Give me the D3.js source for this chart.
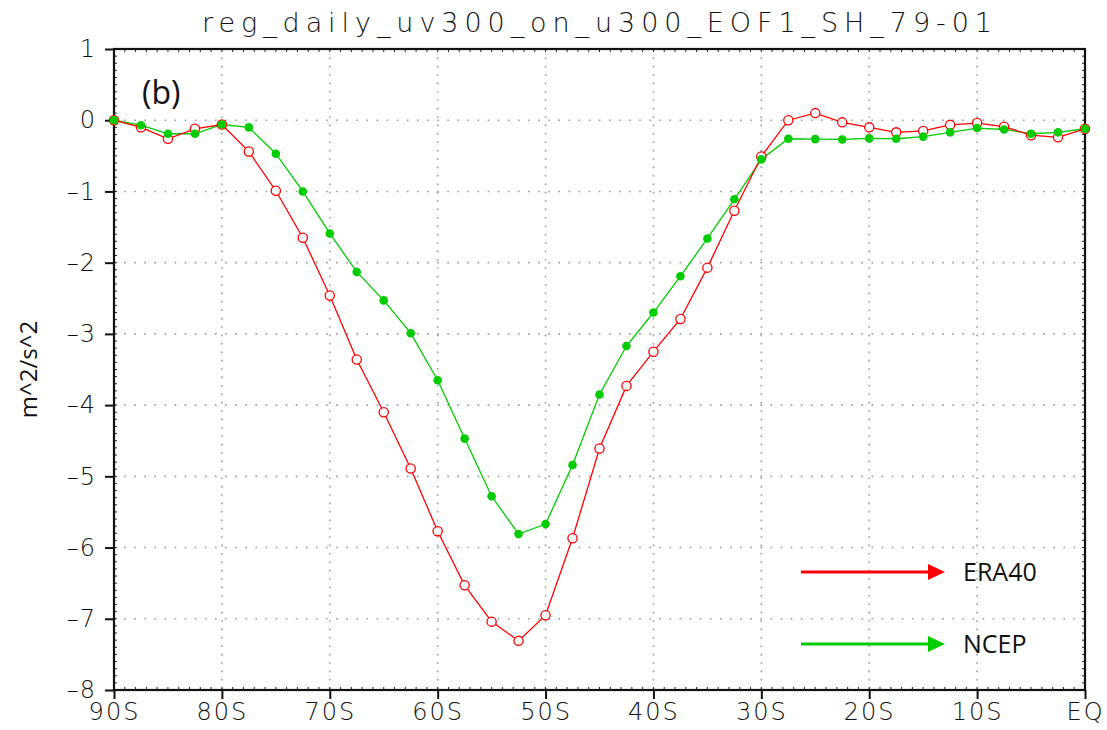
<!DOCTYPE html>
<html>
<head>
<meta charset="utf-8">
<script src="https://cdn.jsdelivr.net/npm/d3@7"></script>
<style>
html,body{margin:0;padding:0;background:#fff;}
svg{display:block;}
</style>
</head>
<body>
<svg id="chart" width="1107" height="730"></svg>
<script>
// ---- data ----
const latitudes = [90, 87.5, 85, 82.5, 80, 77.5, 75, 72.5, 70, 67.5, 65, 62.5, 60, 57.5, 55, 52.5, 50, 47.5, 45, 42.5, 40, 37.5, 35, 32.5, 30, 27.5, 25, 22.5, 20, 17.5, 15, 12.5, 10, 7.5, 5, 2.5, 0];
const era40 = [0, -0.10, -0.26, -0.12, -0.06, -0.44, -0.99, -1.65, -2.46, -3.36, -4.10, -4.89, -5.77, -6.53, -7.04, -7.31, -6.95, -5.87, -4.61, -3.73, -3.25, -2.79, -2.07, -1.27, -0.51, 0.00, 0.10, -0.03, -0.10, -0.17, -0.15, -0.065, -0.04, -0.09, -0.21, -0.24, -0.12];
const ncep = [0, -0.07, -0.19, -0.19, -0.06, -0.10, -0.47, -1.00, -1.59, -2.13, -2.53, -2.99, -3.65, -4.47, -5.28, -5.81, -5.67, -4.84, -3.85, -3.17, -2.70, -2.19, -1.66, -1.11, -0.55, -0.26, -0.265, -0.27, -0.255, -0.26, -0.23, -0.17, -0.11, -0.13, -0.19, -0.17, -0.12];
const xTickValues = [90, 80, 70, 60, 50, 40, 30, 20, 10, 0];
const xTickLabels = ["90S", "80S", "70S", "60S", "50S", "40S", "30S", "20S", "10S", "EQ"];
const yTickValues = [1, 0, -1, -2, -3, -4, -5, -6, -7, -8];
const seriesNames = ["ERA40", "NCEP"];
const titleText = "reg_daily_uv300_on_u300_EOF1_SH_79-01";
const yLabel = "m^2/s^2";
const panelLabel = "(b)";

// ---- layout ----
const L = 114, R = 1085, T = 49, B = 690;
const svg = d3.select("#chart");
const x = d3.scaleLinear().domain([90, 0]).range([L, R]);
const y = d3.scaleLinear().domain([1, -8]).range([T, B]);
const red = "#ff0000", green = "#00cc00";
const tickFont = "'DejaVu Sans', sans-serif";
const tickWeight = 200;

// grid (dotted)
const grid = svg.append("g");
grid.selectAll("line.gx").data(xTickValues.filter(v => v !== 90 && v !== 0)).enter()
  .append("line").attr("x1", d => x(d)).attr("x2", d => x(d)).attr("y1", T).attr("y2", B)
  .attr("stroke", "#9a9a9a").attr("stroke-width", 1.6).attr("stroke-dasharray", "1.6,6.8");
grid.selectAll("line.gy").data(yTickValues.filter(v => v !== 1 && v !== -8)).enter()
  .append("line").attr("x1", L).attr("x2", R).attr("y1", d => y(d)).attr("y2", d => y(d))
  .attr("stroke", "#9a9a9a").attr("stroke-width", 1.6).attr("stroke-dasharray", "1.6,8.5");

// minor ticks
const minorX = d3.range(90, -0.5, -1);
const minorY = d3.range(1, -8.05, -0.1);
const mt = svg.append("g").attr("stroke", "#222").attr("stroke-width", 1);
mt.selectAll("line.mxb").data(minorX).enter().append("line")
  .attr("x1", d => x(d)).attr("x2", d => x(d)).attr("y1", B).attr("y2", B - 3);
mt.selectAll("line.mxt").data(minorX).enter().append("line")
  .attr("x1", d => x(d)).attr("x2", d => x(d)).attr("y1", T).attr("y2", T + 3);
mt.selectAll("line.myl").data(minorY).enter().append("line")
  .attr("x1", L).attr("x2", L + 3).attr("y1", d => y(d)).attr("y2", d => y(d));
mt.selectAll("line.myr").data(minorY).enter().append("line")
  .attr("x1", R).attr("x2", R - 3).attr("y1", d => y(d)).attr("y2", d => y(d));

// axes
const xAxis = d3.axisBottom(x).tickValues(xTickValues)
  .tickFormat((d, i) => xTickLabels[i]).tickSize(9).tickPadding(4);
const gx = svg.append("g").attr("transform", `translate(0,${B})`).call(xAxis);
gx.select(".domain").remove();
gx.selectAll(".tick line").attr("stroke", "#111").attr("stroke-width", 2);
gx.selectAll(".tick text").attr("font-family", tickFont).attr("font-size", 24)
  .attr("font-weight", tickWeight).attr("fill", "#111").attr("letter-spacing", "2px").attr("dy", "0.71em");

const yAxis = d3.axisLeft(y).tickValues(yTickValues)
  .tickFormat(d => d < 0 ? "\u2013" + Math.abs(d) : String(d)).tickSize(9).tickPadding(9);
const gy = svg.append("g").attr("transform", `translate(${L},0)`).call(yAxis);
gy.select(".domain").remove();
gy.selectAll(".tick line").attr("stroke", "#111").attr("stroke-width", 2);
gy.selectAll(".tick text").attr("font-family", tickFont).attr("font-size", 24)
  .attr("font-weight", tickWeight).attr("fill", "#111").attr("letter-spacing", "1px");

// frame
svg.append("rect").attr("x", L).attr("y", T).attr("width", R - L).attr("height", B - T)
  .attr("fill", "none").attr("stroke", "#111").attr("stroke-width", 2.2);

// series
const line = d3.line().x(d => x(d[0])).y(d => y(d[1]));
const ptsE = latitudes.map((l, i) => [l, era40[i]]);
const ptsN = latitudes.map((l, i) => [l, ncep[i]]);

svg.append("path").datum(ptsN).attr("d", line).attr("fill", "none")
  .attr("stroke", green).attr("stroke-width", 1.3);
svg.append("path").datum(ptsE).attr("d", line).attr("fill", "none")
  .attr("stroke", red).attr("stroke-width", 1.3);

svg.append("g").selectAll("circle").data(ptsE).enter().append("circle")
  .attr("cx", d => x(d[0])).attr("cy", d => y(d[1])).attr("r", 4.6)
  .attr("fill", "#fff").attr("stroke", red).attr("stroke-width", 1.3);
svg.append("g").selectAll("circle").data(ptsN).enter().append("circle")
  .attr("cx", d => x(d[0])).attr("cy", d => y(d[1])).attr("r", 4.3)
  .attr("fill", green);

// title
svg.append("text").attr("x", 597).attr("y", 32).attr("text-anchor", "middle")
  .attr("font-family", tickFont).attr("font-size", 27).attr("font-weight", tickWeight).attr("fill", "#111")
  .attr("textLength", 790).attr("lengthAdjust", "spacing").text(titleText);

// y label
svg.append("text").attr("transform", `translate(37,${(T + B) / 2}) rotate(-90)`)
  .attr("text-anchor", "middle").attr("font-family", "'Open Sans', sans-serif")
  .attr("font-size", 24).attr("fill", "#111").text(yLabel);

// panel label
svg.append("text").attr("x", 142).attr("y", 104)
  .attr("font-family", "'Open Sans', sans-serif").attr("font-size", 32).attr("fill", "#111")
  .text(panelLabel);

// legend
const legend = [{name: seriesNames[0], color: red, y: 572}, {name: seriesNames[1], color: green, y: 644}];
const lg = svg.append("g").selectAll("g").data(legend).enter().append("g");
lg.append("line").attr("x1", 801).attr("x2", 930).attr("y1", d => d.y).attr("y2", d => d.y)
  .attr("stroke", d => d.color).attr("stroke-width", 3);
lg.append("path").attr("d", d => `M928,${d.y - 8}L945,${d.y}L928,${d.y + 8}Z`).attr("fill", d => d.color);
lg.append("text").attr("x", 963).attr("y", d => d.y + 9)
  .attr("font-family", "'Open Sans', sans-serif").attr("font-size", 25).attr("fill", "#111")
  .text(d => d.name);
</script>
</body>
</html>
